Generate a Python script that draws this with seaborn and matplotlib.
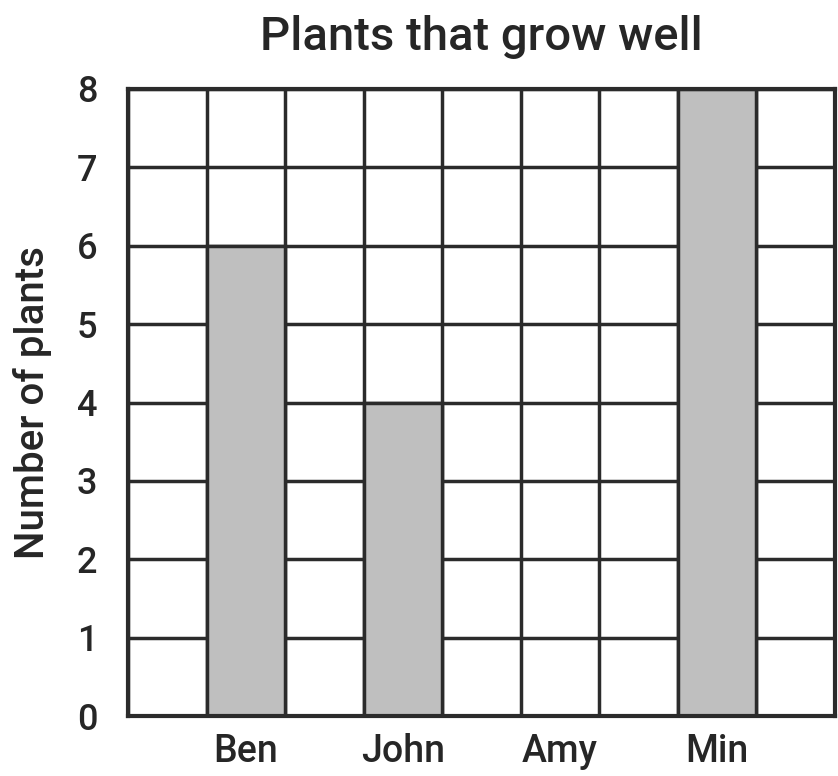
import matplotlib
matplotlib.use("Agg")
import matplotlib.pyplot as plt
import seaborn as sns
import numpy as np
import pandas as pd

names = ["Ben", "John", "Amy", "Min"]
values = [6, 4, 0, 8]
yticks = [0, 1, 2, 3, 4, 5, 6, 7, 8]

sns.set_theme(style="white")
plt.rcParams['font.family'] = ['Roboto', 'DejaVu Sans']

dark = "#2b2b2b"
txt = "#262626"
fig = plt.figure(figsize=(8.38, 7.76), dpi=100)
ax = fig.add_axes([128/838, 1-716/776, (835-128)/838, (716-89)/776])

df = pd.DataFrame({"name": names, "value": values})
sns.barplot(data=df, x="name", y="value", order=names, color="#bfbfbf",
            saturation=1, width=0.5, edgecolor=dark, linewidth=2.5, ax=ax, zorder=2)

ax.set_xlim(-0.75, len(names) - 0.25)
ax.set_ylim(0, 8)
ax.set_yticks(yticks)
ax.set_xticks(np.arange(-0.75, len(names) - 0.2, 0.5), minor=True)
ax.set_axisbelow(True)
ax.grid(False)
ax.grid(True, axis="y", which="major", color=dark, linewidth=2.5)
ax.grid(True, axis="x", which="minor", color=dark, linewidth=2.5)
for s in ax.spines.values():
    s.set_visible(True)
    s.set_color(dark)
    s.set_linewidth(3)
    s.set_zorder(5)

ax.tick_params(axis="both", which="both", length=0, colors=txt)
ax.tick_params(axis="y", pad=22, labelsize=26)
ax.tick_params(axis="x", pad=12, labelsize=27)
for lab in ax.get_xticklabels() + ax.get_yticklabels():
    lab.set_fontweight("medium")
ax.set_xlabel("")
ax.set_ylabel("Number of plants", fontsize=29, color=txt, labelpad=18, fontweight="medium")
ax.set_title("Plants that grow well", fontsize=34, color=txt, pad=28, fontweight="medium")

fig.savefig("out.png", dpi=100)
